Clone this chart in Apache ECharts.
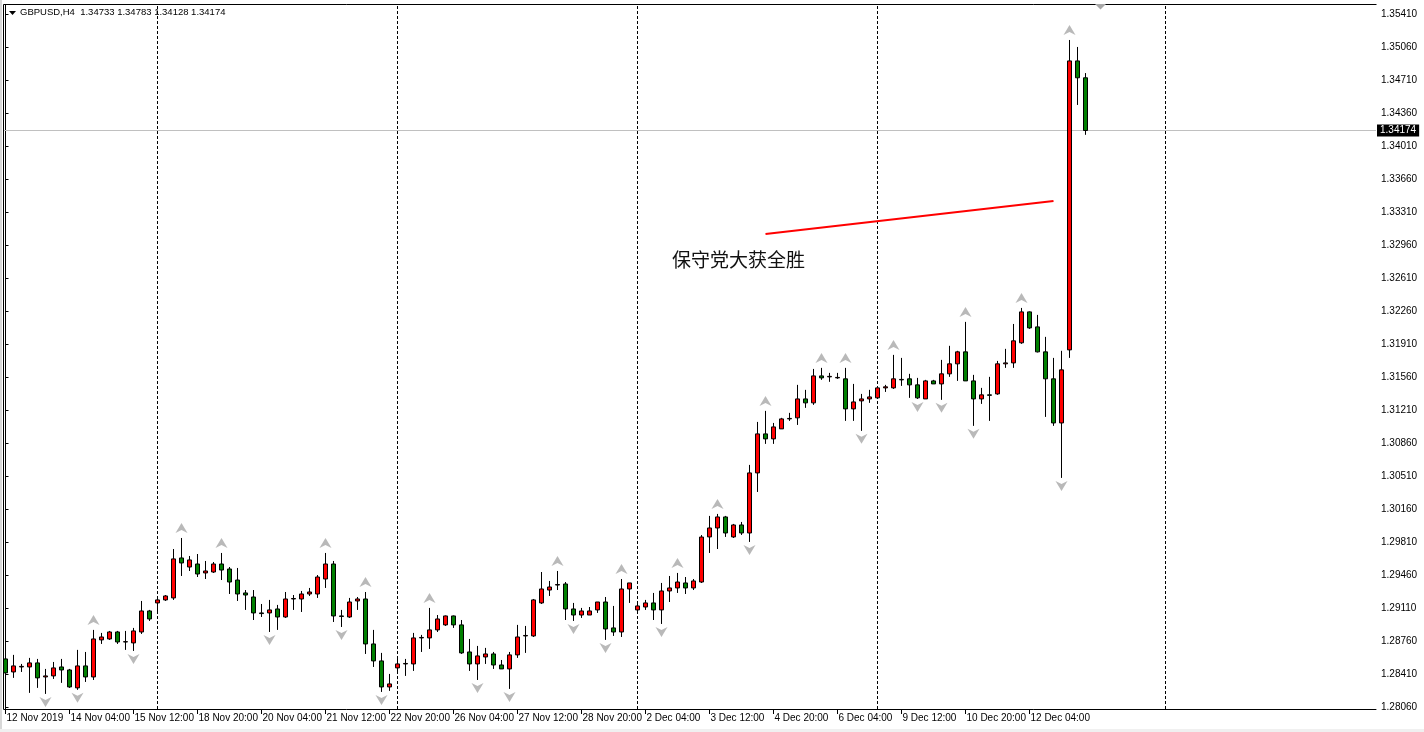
<!DOCTYPE html>
<html><head><meta charset="utf-8">
<script src="https://cdn.jsdelivr.net/npm/echarts@6/dist/echarts.min.js"></script>
<style>html,body{margin:0;padding:0;background:#fff}#c{width:1424px;height:732px}</style>
</head><body><div id="c"></div>
<script>
const symbolName = 'GBPUSD,H4';
const headerOHLC = ['1.34733', '1.34783', '1.34128', '1.34174'];
const currentPrice = 1.34174;
// time-axis labels, one every 8 bars (H4)
const timeLabels = ['12 Nov 2019','14 Nov 04:00','15 Nov 12:00','18 Nov 20:00','20 Nov 04:00','21 Nov 12:00','22 Nov 20:00','26 Nov 04:00','27 Nov 12:00','28 Nov 20:00','2 Dec 04:00','3 Dec 12:00','4 Dec 20:00','6 Dec 04:00','9 Dec 12:00','10 Dec 20:00','12 Dec 04:00'];
const priceTicks = [1.28060,1.28410,1.28760,1.29110,1.29460,1.29810,1.30160,1.30510,1.30860,1.31210,1.31560,1.31910,1.32260,1.32610,1.32960,1.33310,1.33660,1.34010,1.34360,1.34710,1.35060,1.35410];
// bars: [open, high, low, close]
const bars = [
[1.28569,1.28601,1.28378,1.28421],[1.28431,1.28612,1.28368,1.28495],[1.28484,1.28516,1.28431,1.28490],[1.28484,1.28580,1.28209,1.28527],
[1.28527,1.28569,1.28262,1.28368],[1.28378,1.28463,1.28198,1.28389],[1.28389,1.28537,1.28357,1.28474],[1.28484,1.28569,1.28315,1.28452],
[1.28452,1.28463,1.28262,1.28272],[1.28262,1.28665,1.28241,1.28495],[1.28495,1.28643,1.28325,1.28378],[1.28378,1.28877,1.28346,1.28781],
[1.28771,1.28845,1.28728,1.28802],[1.28781,1.28866,1.28771,1.28855],[1.28855,1.28866,1.28728,1.28749],[1.28749,1.28866,1.28665,1.28752],
[1.28739,1.28898,1.28654,1.28866],[1.28855,1.29184,1.28834,1.29078],[1.29078,1.29089,1.28972,1.28993],[1.29163,1.29226,1.29057,1.29195],
[1.29195,1.29247,1.29184,1.29237],[1.29216,1.29735,1.29195,1.29630],[1.29640,1.29852,1.29449,1.29587],[1.29544,1.29661,1.29502,1.29619],
[1.29576,1.29682,1.29438,1.29470],[1.29481,1.29608,1.29417,1.29502],[1.29491,1.29597,1.29481,1.29576],[1.29576,1.29693,1.29406,1.29512],
[1.29523,1.29544,1.29258,1.29385],[1.29406,1.29534,1.29184,1.29258],[1.29269,1.29300,1.29089,1.29247],[1.29226,1.29300,1.28982,1.29057],
[1.29057,1.29152,1.29014,1.29050],[1.29057,1.29195,1.28855,1.29089],[1.29099,1.29142,1.28877,1.29014],[1.29014,1.29279,1.29004,1.29205],
[1.29205,1.29247,1.29089,1.29210],[1.29205,1.29290,1.29067,1.29258],[1.29258,1.29322,1.29237,1.29279],[1.29258,1.29459,1.29216,1.29438],
[1.29417,1.29693,1.29322,1.29576],[1.29576,1.29608,1.28961,1.29025],[1.29025,1.29089,1.28908,1.29020],[1.29014,1.29216,1.29004,1.29173],
[1.29184,1.29226,1.29089,1.29205],[1.29205,1.29279,1.28622,1.28728],[1.28728,1.28877,1.28484,1.28548],[1.28548,1.28633,1.28219,1.28272],
[1.28272,1.28410,1.28230,1.28304],[1.28474,1.28569,1.28410,1.28516],[1.28516,1.28569,1.28389,1.28521],[1.28516,1.28845,1.28442,1.28792],
[1.28792,1.28824,1.28643,1.28797],[1.28792,1.29110,1.28675,1.28877],[1.28877,1.29035,1.28855,1.28993],[1.28930,1.29030,1.28919,1.29025],
[1.29025,1.29030,1.28898,1.28930],[1.28930,1.28982,1.28622,1.28633],[1.28643,1.28781,1.28442,1.28516],[1.28516,1.28707,1.28346,1.28601],
[1.28590,1.28686,1.28516,1.28622],[1.28622,1.28643,1.28463,1.28505],[1.28505,1.28558,1.28463,1.28463],[1.28463,1.28643,1.28251,1.28612],
[1.28612,1.28930,1.28580,1.28802],[1.28813,1.28919,1.28633,1.28818],[1.28813,1.29205,1.28802,1.29195],[1.29163,1.29491,1.29152,1.29311],
[1.29300,1.29396,1.29237,1.29332],[1.29353,1.29502,1.29300,1.29358],[1.29364,1.29385,1.28982,1.29099],[1.29099,1.29163,1.28972,1.29035],
[1.29035,1.29110,1.29004,1.29078],[1.29035,1.29120,1.29035,1.29078],[1.29089,1.29173,1.29057,1.29173],[1.29173,1.29226,1.28771,1.28887],
[1.28898,1.29131,1.28813,1.28855],[1.28855,1.29417,1.28802,1.29311],[1.29311,1.29375,1.29163,1.29375],[1.29089,1.29163,1.29046,1.29131],
[1.29120,1.29195,1.29089,1.29163],[1.29163,1.29269,1.28982,1.29089],[1.29089,1.29375,1.28940,1.29290],[1.29290,1.29449,1.29173,1.29322],
[1.29322,1.29481,1.29269,1.29385],[1.29375,1.29438,1.29258,1.29322],[1.29322,1.29417,1.29300,1.29396],[1.29385,1.29883,1.29375,1.29862],
[1.29863,1.30086,1.29693,1.29958],[1.29958,1.30107,1.29735,1.30075],[1.30075,1.30086,1.29863,1.29905],[1.29863,1.30001,1.29852,1.29990],
[1.29990,1.30022,1.29884,1.29905],[1.29905,1.30627,1.29810,1.30542],[1.30542,1.31083,1.30340,1.30956],[1.30956,1.31200,1.30850,1.30903],
[1.30903,1.31072,1.30850,1.31030],[1.31009,1.31126,1.31009,1.31115],[1.31115,1.31179,1.31094,1.31120],[1.31126,1.31476,1.31051,1.31327],
[1.31327,1.31423,1.31232,1.31285],[1.31285,1.31645,1.31264,1.31571],[1.31571,1.31656,1.31529,1.31550],[1.31561,1.31603,1.31508,1.31566],
[1.31550,1.31603,1.31540,1.31555],[1.31540,1.31656,1.31094,1.31221],[1.31221,1.31486,1.31094,1.31295],[1.31306,1.31380,1.30988,1.31327],
[1.31327,1.31423,1.31285,1.31348],[1.31338,1.31444,1.31327,1.31444],[1.31444,1.31476,1.31401,1.31455],[1.31444,1.31794,1.31433,1.31540],
[1.31529,1.31762,1.31465,1.31534],[1.31540,1.31593,1.31338,1.31476],[1.31476,1.31550,1.31327,1.31338],[1.31327,1.31529,1.31327,1.31518],
[1.31518,1.31529,1.31486,1.31486],[1.31486,1.31741,1.31317,1.31593],[1.31593,1.31890,1.31561,1.31699],[1.31699,1.31837,1.31518,1.31826],
[1.31826,1.32144,1.31518,1.31518],[1.31518,1.31582,1.31041,1.31327],[1.31327,1.31444,1.31274,1.31370],[1.31370,1.31561,1.31094,1.31365],
[1.31380,1.31730,1.31370,1.31699],[1.31699,1.31858,1.31656,1.31709],[1.31709,1.32122,1.31656,1.31943],[1.31922,1.32292,1.31911,1.32250],
[1.32250,1.32255,1.32070,1.32080],[1.32091,1.32218,1.31820,1.31826],[1.31826,1.31985,1.31136,1.31540],[1.31540,1.31762,1.31041,1.31072],
[1.31072,1.31837,1.30489,1.31635],[1.31847,1.35134,1.31762,1.34912],[1.34912,1.35060,1.34445,1.34733],[1.34733,1.34783,1.34128,1.34174]
];
// fractal markers (bar indices)
const fractalUp = [11,22,27,40,45,53,69,77,84,89,95,102,105,111,120,127,133];
const fractalDown = [5,9,16,33,42,47,59,63,71,75,82,93,107,114,117,121,132];
// weekly period separators (bar positions)
const weekSeparators = [19,49,79,109,145];
// hand-drawn trend line [bar position, price]
const trendLine = [[95,1.33077],[131,1.33427]];
const noteText = '保守党大获全胜';

const FONT = 'Liberation Sans';
const chart = echarts.init(document.getElementById('c'), null, {renderer:'canvas'});
const candleData = bars.map((b,i)=>[i, b[0], b[3], b[2], b[1]]);
const upPath = 'path://M6,0 L12,10 L6,7 L0,10 Z';
const dnPath = 'path://M6,10 L12,0 L6,3 L0,0 Z';
const xTickVals = timeLabels.map((_,i)=>i*8);

chart.setOption({
  animation:false,
  backgroundColor:'#ffffff',
  grid:{left:4, top:5, width:1372, height:704, show:false},
  xAxis:{type:'value', min:-0.1875, max:171.3125,
    axisLine:{show:true, lineStyle:{color:'#000', width:1}},
    axisTick:{show:true, customValues:xTickVals, length:5, lineStyle:{color:'#000'}},
    axisLabel:{show:true, customValues:xTickVals, color:'#000', fontFamily:FONT, fontSize:10, align:'left', margin:4, padding:[0,0,0,1],
      formatter:(v)=>timeLabels[Math.round(v/8)] || ''},
    splitLine:{show:false}},
  yAxis:{type:'value', position:'right', min:1.28038, max:1.35505,
    axisLine:{show:true, lineStyle:{color:'#000', width:1}},
    axisTick:{show:true, customValues:priceTicks, length:3, lineStyle:{color:'#000'}},
    axisLabel:{show:true, customValues:priceTicks, color:'#000', fontFamily:FONT, fontSize:10, margin:5,
      formatter:(v)=>v.toFixed(5)},
    splitLine:{show:false}},
  series:[
    {type:'candlestick', data:candleData, barWidth:4, clip:true, z:2,
     itemStyle:{color:'#ff0000', color0:'#008000', borderColor:'#000', borderColor0:'#000', borderColorDoji:'#000', borderWidth:1}},
    {type:'scatter', data:fractalUp.map(k=>[k, bars[k][1]]), symbol:upPath, symbolSize:[12,10], symbolOffset:[0,-10],
     itemStyle:{color:'#a8a8a8'}, silent:true, z:3},
    {type:'scatter', data:fractalDown.map(k=>[k, bars[k][2]]), symbol:dnPath, symbolSize:[12,10], symbolOffset:[0,8],
     itemStyle:{color:'#a8a8a8'}, silent:true, z:3},
    {type:'line', data:trendLine, symbol:'none', lineStyle:{color:'#ff0000', width:2}, silent:true, z:4,
     markLine:{silent:true, symbol:['none','none'], animation:false, precision:5, z:1,
       data:[
         ...weekSeparators.map(k=>({xAxis:k, lineStyle:{color:'#000', width:1, type:[3,2]}, label:{show:false}})),
         {yAxis:currentPrice, lineStyle:{color:'#c0c0c0', width:1, type:'solid'},
          label:{show:true, position:'end', distance:1, formatter:currentPrice.toFixed(5), color:'#fff', backgroundColor:'#000', padding:[1,3,1,3], fontFamily:FONT, fontSize:10}}
       ]}}
  ],
  graphic:[
    {type:'rect', shape:{x:0,y:0,width:2,height:732}, style:{fill:'#d8d8d8'}, silent:true},
    {type:'rect', shape:{x:0,y:729,width:1424,height:3}, style:{fill:'#f0f0f0'}, silent:true},
    {type:'line', shape:{x1:3.5,y1:4.5,x2:1376.5,y2:4.5}, style:{stroke:'#000', lineWidth:1}, silent:true},
    {type:'line', shape:{x1:3.5,y1:4.5,x2:3.5,y2:709.5}, style:{stroke:'#000', lineWidth:1}, silent:true},
    {type:'polygon', shape:{points:[[9,11],[16,11],[12.5,15]]}, style:{fill:'#000'}, silent:true},
    {type:'polygon', shape:{points:[[1095,4],[1106,4],[1100.5,9.5]]}, style:{fill:'#a8a8a8'}, silent:true},
    {type:'text', x:20, y:7, style:{text:symbolName+'  '+headerOHLC.join(' '), fill:'#000', font:'9.5px "'+FONT+'"'}, silent:true},
    {type:'text', x:672, y:250, style:{text:noteText, fill:'#111', font:'19px "Noto Sans CJK SC"'}, silent:true}
  ]
});
</script></body></html>
